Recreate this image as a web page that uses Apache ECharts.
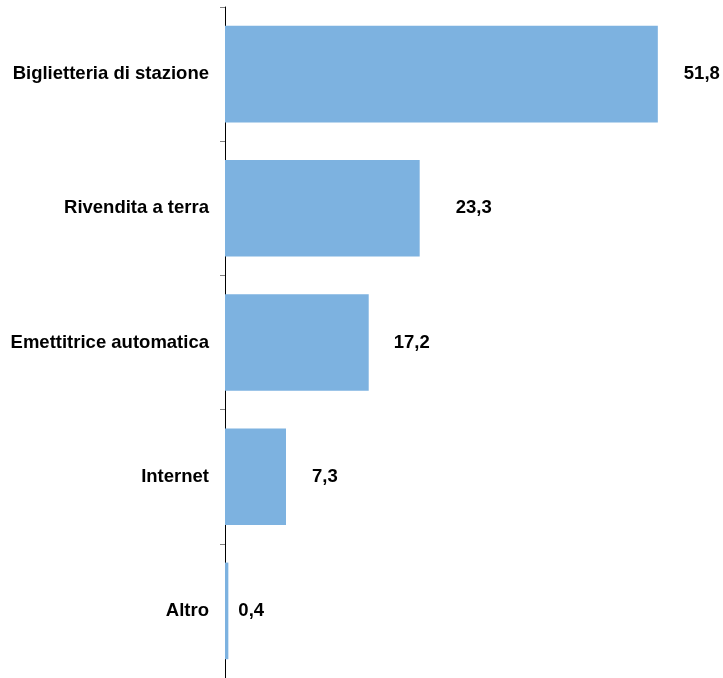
<!DOCTYPE html>
<html><head><meta charset="utf-8">
<script src="https://cdn.jsdelivr.net/npm/echarts@6/dist/echarts.min.js"></script>
<style>html,body{margin:0;padding:0;background:#fff}#c{width:723px;height:678px}</style>
</head><body><div id="c"></div>
<script>
var categories = ["Biglietteria di stazione", "Rivendita a terra", "Emettitrice automatica", "Internet", "Altro"];
var values = [51.8, 23.3, 17.2, 7.3, 0.4];
var labelGap = [26, 36, 25, 26, 10];

var chart = echarts.init(document.getElementById('c'));
chart.setOption({
  animation: false,
  grid: { left: 225, right: -3, top: 7, bottom: 0, containLabel: false },
  xAxis: { type: 'value', min: 0, max: 59.6, show: false },
  yAxis: {
    type: 'category', data: categories, inverse: true,
    axisLine: { show: true, lineStyle: { color: '#000', width: 1 } },
    axisTick: { show: true, length: 5, lineStyle: { color: '#808080' } },
    axisLabel: { margin: 16, color: '#000', fontFamily: 'Liberation Sans, Arial, sans-serif', fontWeight: 'bold', fontSize: 18.5 }
  },
  series: [{
    type: 'bar', barCategoryGap: '28%',
    itemStyle: { color: '#7DB2E0' },
    data: values.map(function (v, i) {
      return { value: v, label: { distance: labelGap[i] } };
    }),
    label: {
      show: true, position: 'right', color: '#000',
      fontFamily: 'Liberation Sans, Arial, sans-serif', fontWeight: 'bold', fontSize: 18.5,
      formatter: function (p) { return String(p.value).replace('.', ','); }
    }
  }]
});
</script></body></html>
